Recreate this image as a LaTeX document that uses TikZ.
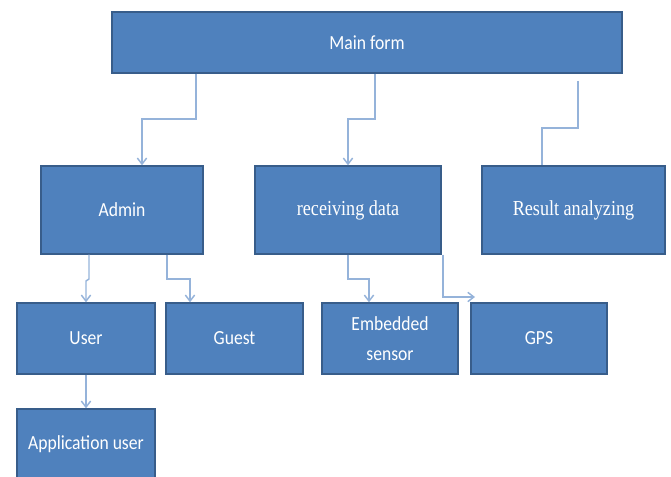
\documentclass[tikz,border=0pt]{standalone}
\usepackage{fontspec}
\setmainfont{Carlito}
\newfontfamily\condsans[FakeStretch=0.88]{Carlito}
\newfontfamily\condserif[FakeStretch=0.85]{Liberation Serif}
\usetikzlibrary{arrows.meta}
\definecolor{boxfill}{HTML}{4F81BD}
\definecolor{boxline}{HTML}{385D8A}
\definecolor{linkcol}{HTML}{95B3DA}
\tikzset{
  x=0.75pt, y=-0.75pt,
  box/.style={draw=boxline, line width=1.1pt, fill=boxfill, text=white,
    inner sep=0pt, align=center, font=\condsans\fontsize{15}{17}\selectfont},
  serifbox/.style={box, font=\condserif\fontsize{16}{18}\selectfont},
  link/.style={draw=linkcol, line width=1.1pt},
  tip/.style={link, -{Straight Barb[length=4.5pt,width=7pt]}},
}
\begin{document}
\begin{tikzpicture}
\useasboundingbox (0,0) rectangle (671,477);

% top level
\node[box, minimum width=510*0.75pt, minimum height=61*0.75pt] (main) at (367,42.5) {Main form};

% second level
\node[box, minimum width=162*0.75pt, minimum height=88*0.75pt] (admin) at (122,210) {Admin};
\node[serifbox, minimum width=186*0.75pt, minimum height=88*0.75pt] (recv) at (348,210) {receiving data};
\node[serifbox, minimum width=183*0.75pt, minimum height=88*0.75pt] (result) at (573.5,210) {Result analyzing};

% third level
\node[box, minimum width=138*0.75pt, minimum height=71*0.75pt] (user) at (86,338.5) {User};
\node[box, minimum width=137*0.75pt, minimum height=71*0.75pt] (guest) at (234.5,338.5) {Guest};
\node[box, minimum width=136*0.75pt, minimum height=71*0.75pt] (sensor) at (390,338.5) {Embedded\\[5pt]sensor};
\node[box, minimum width=136*0.75pt, minimum height=71*0.75pt] (gps) at (539,338.5) {GPS};

% fourth level
\node[box, minimum width=138*0.75pt, minimum height=71*0.75pt] (appuser) at (86,444.5) {Application user};

% connectors from the main form
\draw[tip] (196,0 |- main.south) |- (142,119) -- (142,0 |- admin.north);
\draw[tip] (375,0 |- main.south) |- (348,119) -- (348,0 |- recv.north);
\coordinate (rstart) at (578,81);
\draw[link] (rstart) |- (542,128) -- (542,0 |- result.north);

% connectors from admin
\draw[tip] (89,0 |- admin.south) -- (89,279) -- (86,281) -- (86,0 |- user.north);
\draw[tip] (167,0 |- admin.south) |- (190,279) -- (190,0 |- guest.north);

% connectors from receiving data
\draw[tip] (348,0 |- recv.south) |- (369,279) -- (369,0 |- sensor.north);
\draw[tip] (443,0 |- recv.south) |- (475,297);

% user to application user
\draw[tip] (user.south) -- (appuser.north);
\end{tikzpicture}
\end{document}
